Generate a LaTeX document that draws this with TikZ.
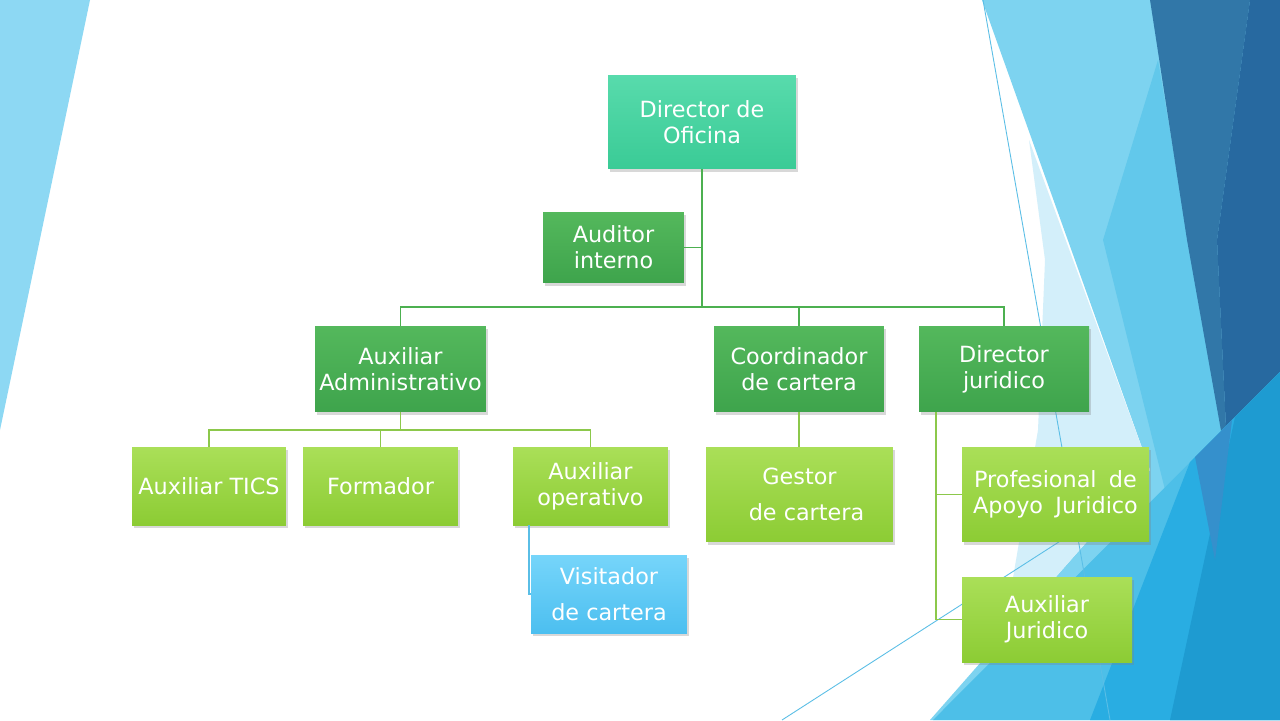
\documentclass[tikz,border=0pt]{standalone}
\usepackage{fontspec}
\setmainfont{DejaVu Sans}
\usetikzlibrary{shadows}

% slide colours
\definecolor{bgSide}{RGB}{141,216,243}
\definecolor{bgLight}{RGB}{125,211,240}
\definecolor{bgPale}{RGB}{211,239,250}
\definecolor{bgMid}{RGB}{98,200,235}
\definecolor{bgDark}{RGB}{49,119,168}
\definecolor{bgDarker}{RGB}{39,105,160}
\definecolor{bgBlue}{RGB}{77,191,232}
\definecolor{bgBlueB}{RGB}{41,173,226}
\definecolor{bgBlueC}{RGB}{30,155,209}
\definecolor{bgSteel}{RGB}{53,144,204}
% box colours
\definecolor{tealTop}{RGB}{88,219,172}
\definecolor{tealBot}{RGB}{58,203,150}
\definecolor{greenTop}{RGB}{84,184,92}
\definecolor{greenBot}{RGB}{62,164,76}
\definecolor{limeTop}{RGB}{170,223,88}
\definecolor{limeBot}{RGB}{140,204,52}
\definecolor{skyTop}{RGB}{118,213,250}
\definecolor{skyBot}{RGB}{76,191,240}
\definecolor{lineGreen}{RGB}{76,176,80}
\definecolor{lineLime}{RGB}{140,200,75}
\definecolor{lineSky}{RGB}{90,190,230}

\newcommand{\orgfont}{\fontsize{12.7}{14.8}\selectfont}

\tikzset{
  role/.style={rectangle, text=white, align=center, font=\orgfont, inner sep=1pt,
    drop shadow={opacity=0.3, shadow xshift=0.04cm, shadow yshift=-0.06cm}},
  headrole/.style={role, top color=tealTop, bottom color=tealBot},
  midrole/.style={role, top color=greenTop, bottom color=greenBot},
  lowrole/.style={role, top color=limeTop, bottom color=limeBot},
  fieldrole/.style={role, top color=skyTop, bottom color=skyBot},
  link/.style={draw=lineGreen, line width=1.1pt},
  sublink/.style={draw=lineLime, line width=1.1pt},
  fieldlink/.style={draw=lineSky, line width=1.1pt}
}

\begin{document}
\begin{tikzpicture}[x=0.02cm, y=-0.02cm]
    \useasboundingbox (0,0) rectangle (1280,720);

    % Background facets
    \fill[white] (0,0) rectangle (1280,720);
    \fill[bgSide] (0,0) -- (90,0) -- (0,430) -- cycle;
    \fill[bgLight] (982,0) -- (1280,0) -- (1280,720) -- (930,720) -- (1150,470) -- cycle;
    \fill[bgPale] (1029,140) -- (1150,470) -- (1003,637) -- (1038,430) -- (1045,260) -- cycle;
    \fill[bgMid] (1158,60) -- (1190,250) -- (1228,470) -- (1175,530) -- (1103,240) -- cycle;
    \fill[bgDark] (1150,0) -- (1250,0) -- (1217,240) -- (1228,470) -- (1187,240) -- cycle;
    \fill[bgDarker] (1250,0) -- (1280,0) -- (1280,385) -- (1228,470) -- (1217,240) -- cycle;
    \fill[bgBlue] (933,720) -- (1280,720) -- (1280,372) -- cycle;
    \fill[bgBlueB] (1090,720) -- (1280,720) -- (1280,372) -- (1190,462) -- cycle;
    \fill[bgBlueC] (1170,720) -- (1280,720) -- (1280,372) -- (1235,417) -- cycle;
    \fill[bgSteel] (1195,457) -- (1232,420) -- (1215,560) -- cycle;
    \draw[lineSky, line width=0.5pt] (983,0) -- (1110,720);
    \draw[lineSky, line width=0.5pt] (782,720) -- (1065,538);

    % Level 1
    \node[headrole, minimum width=3.76cm, minimum height=1.88cm] (dir) at (702,122) {Director de\\Oficina};
    \node[midrole, minimum width=2.82cm, minimum height=1.42cm] (aud) at (613.5,247.5) {Auditor\\interno};

    % Level 2
    \node[midrole, minimum width=3.42cm, minimum height=1.72cm] (admin) at (400.5,369) {Auxiliar\\Administrativo};
    \node[midrole, minimum width=3.40cm, minimum height=1.72cm] (coord) at (799,369) {Coordinador\\de cartera};
    \node[midrole, minimum width=3.40cm, minimum height=1.72cm] (djur) at (1004,369) {Director\\juridico};

    % Level 3
    \node[lowrole, minimum width=3.08cm, minimum height=1.56cm] (tics) at (209,486) {Auxiliar TICS};
    \node[lowrole, minimum width=3.10cm, minimum height=1.56cm] (form) at (380.5,486) {Formador};
    \node[lowrole, minimum width=3.10cm, minimum height=1.56cm] (oper) at (590.5,486) {Auxiliar\\operativo};
    \node[lowrole, minimum width=3.74cm, minimum height=1.90cm] (gestor) at (799.5,494.5) {Gestor\\[6pt]\hspace{8pt}de cartera};
    \node[lowrole, minimum width=3.74cm, minimum height=1.90cm] (prof) at (1055.5,494.5) {Profesional\hspace{3pt} de\\Apoyo\hspace{3pt} Juridico};
    \node[lowrole, minimum width=3.40cm, minimum height=1.70cm] (auxjur) at (1047,619.5) {Auxiliar\\Juridico};
    \node[fieldrole, minimum width=3.12cm, minimum height=1.56cm] (visit) at (609,594) {Visitador\\[6pt]de cartera};

    % Connectors
    \coordinate (bus) at (702,307);
    \coordinate (abus) at (400.5,430);
    \draw[link] (dir.south) -- (bus);
    \draw[link] (aud.east) -- (aud.east -| dir.south);
    \draw[link] (admin.north) |- (bus) -| (djur.north);
    \draw[link] (coord.north) -- (coord.north |- bus);
    \draw[sublink] (admin.south) -- (abus);
    \draw[sublink] (tics.north) |- (abus) -| (oper.north);
    \draw[sublink] (form.north) -- (form.north |- abus);
    \draw[sublink] (coord.south) -- (coord.south |- gestor.north);
    \draw[sublink] (djur.south west) ++(17,0) coordinate (jtop) |- (prof.west);
    \draw[sublink] (jtop) |- (auxjur.west);
    \draw[fieldlink] (oper.south west) ++(16,0) coordinate (otop) |- (visit.west);
\end{tikzpicture}
\end{document}
